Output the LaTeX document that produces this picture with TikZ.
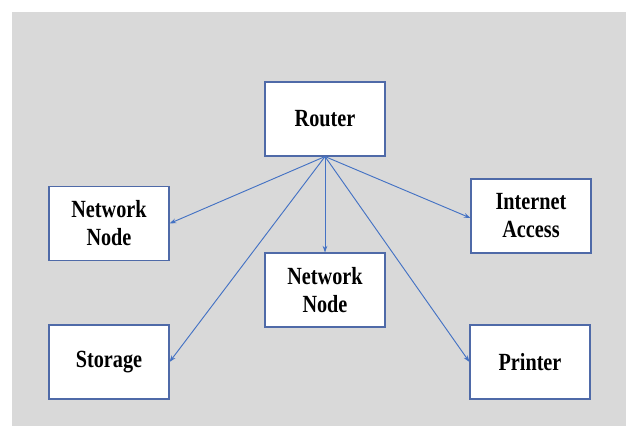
\documentclass[tikz,border=0pt]{standalone}
\usepackage{fontspec}
\setmainfont{Liberation Serif}
\newfontfamily\lblfont[FakeStretch=0.82]{Liberation Serif}
\usetikzlibrary{arrows.meta}
\definecolor{bgg}{HTML}{D9D9D9}
\definecolor{boxb}{HTML}{4F6AA8}
\definecolor{arr}{HTML}{4472C4}
\tikzset{
  box/.style={draw=boxb, line width=0.8pt, fill=white, inner sep=0pt,
    minimum width=90pt, minimum height=55.5pt, align=center,
    font=\lblfont\bfseries\fontsize{18.5}{21}\selectfont},
  link/.style={draw=arr, line width=0.7pt, -{Stealth[length=5pt,width=3.5pt]}}
}
\begin{document}
\begin{tikzpicture}[x=0.75pt,y=-0.75pt]
\useasboundingbox (0,0) rectangle (626,426);
\fill[bgg] (12,12) rectangle (626,426);
\node[box] (router) at (325,119) {Router};
\node[box] (nnl) at (109,223.5) {Network\\Node};
\node[box] (inet) at (531,216) {Internet\\Access};
\node[box] (nnc) at (325,290) {Network\\Node};
\node[box] (stor) at (109,362) {Storage};
\node[box] (prn) at (530,362) {Printer};
\coordinate (src) at (router.south);
\draw[link] (src) -- (nnl.east);
\draw[link] (src) -- ([yshift=-1.5pt]inet.west);
\draw[link] (src) -- (nnc.north);
\draw[link] (src) -- (stor.east);
\draw[link] (src) -- (prn.west);
\end{tikzpicture}
\end{document}
